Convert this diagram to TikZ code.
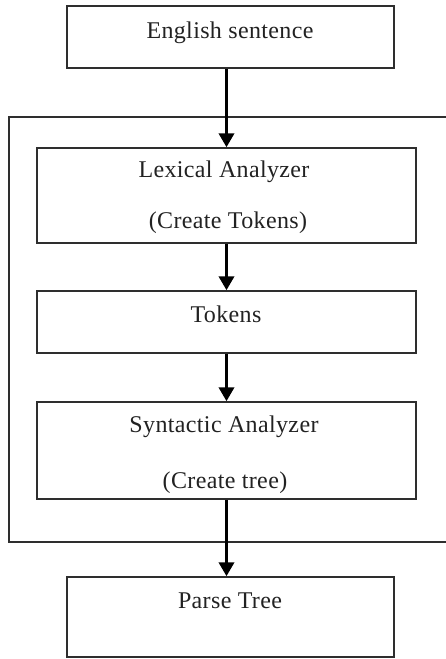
\documentclass[tikz,border=0pt]{standalone}
\usepackage{fontspec}
\setmainfont{Liberation Serif}[LetterSpace=1.5]
\usetikzlibrary{arrows.meta}

\definecolor{edge}{HTML}{2E2E2E}
\definecolor{ink}{HTML}{222222}

\tikzset{
  box/.style={draw=edge, line width=1.4pt, inner sep=0pt, fill=none},
  txt/.style={anchor=base, inner sep=0pt, text=ink, font=\fontsize{24}{28}\selectfont},
  flow/.style={draw=black, line width=3.8pt,
    -{Triangle[width=15pt, length=14pt]}, shorten >=0pt},
}

\begin{document}
\begin{tikzpicture}[x=1pt, y=-1pt]
  \clip (0,0) rectangle (446,659);
  \fill[white] (0,0) rectangle (446,659);

  % outer frame around the analysis stages (runs off the right side)
  \node[box, minimum width=446pt, minimum height=425pt] (frame) at (232,329.5) {};

  % stages
  \node[box, minimum width=327pt, minimum height=62pt] (eng)   at (230.5,37)  {};
  \node[box, minimum width=379pt, minimum height=95pt] (lex)   at (226.5,195.5) {};
  \node[box, minimum width=379pt, minimum height=62pt] (tok)   at (226.5,322) {};
  \node[box, minimum width=379pt, minimum height=97pt] (syn)   at (226.5,450.5) {};
  \node[box, minimum width=327pt, minimum height=80pt] (parse) at (230.5,617) {};

  % labels
  \node[txt] (engT)  at (230,38)  {English sentence};
  \node[txt] (lexA)  at (224,177) {Lexical Analyzer};
  \node[txt] (lexB)  at (228,228) {(Create Tokens)};
  \node[txt] (tokT)  at (226,322) {Tokens};
  \node[txt] (synA)  at (224,432) {Syntactic Analyzer};
  \node[txt] (synB)  at (225,488) {(Create tree)};
  \node[txt] (parT)  at (230,608) {Parse Tree};

  % flow arrows
  \draw[flow] (eng.south -| lex.north) -- (lex.north);
  \draw[flow] (lex.south) -- (tok.north);
  \draw[flow] (tok.south) -- (syn.north);
  \draw[flow] (syn.south) -- (syn.south |- parse.north);
\end{tikzpicture}
\end{document}
